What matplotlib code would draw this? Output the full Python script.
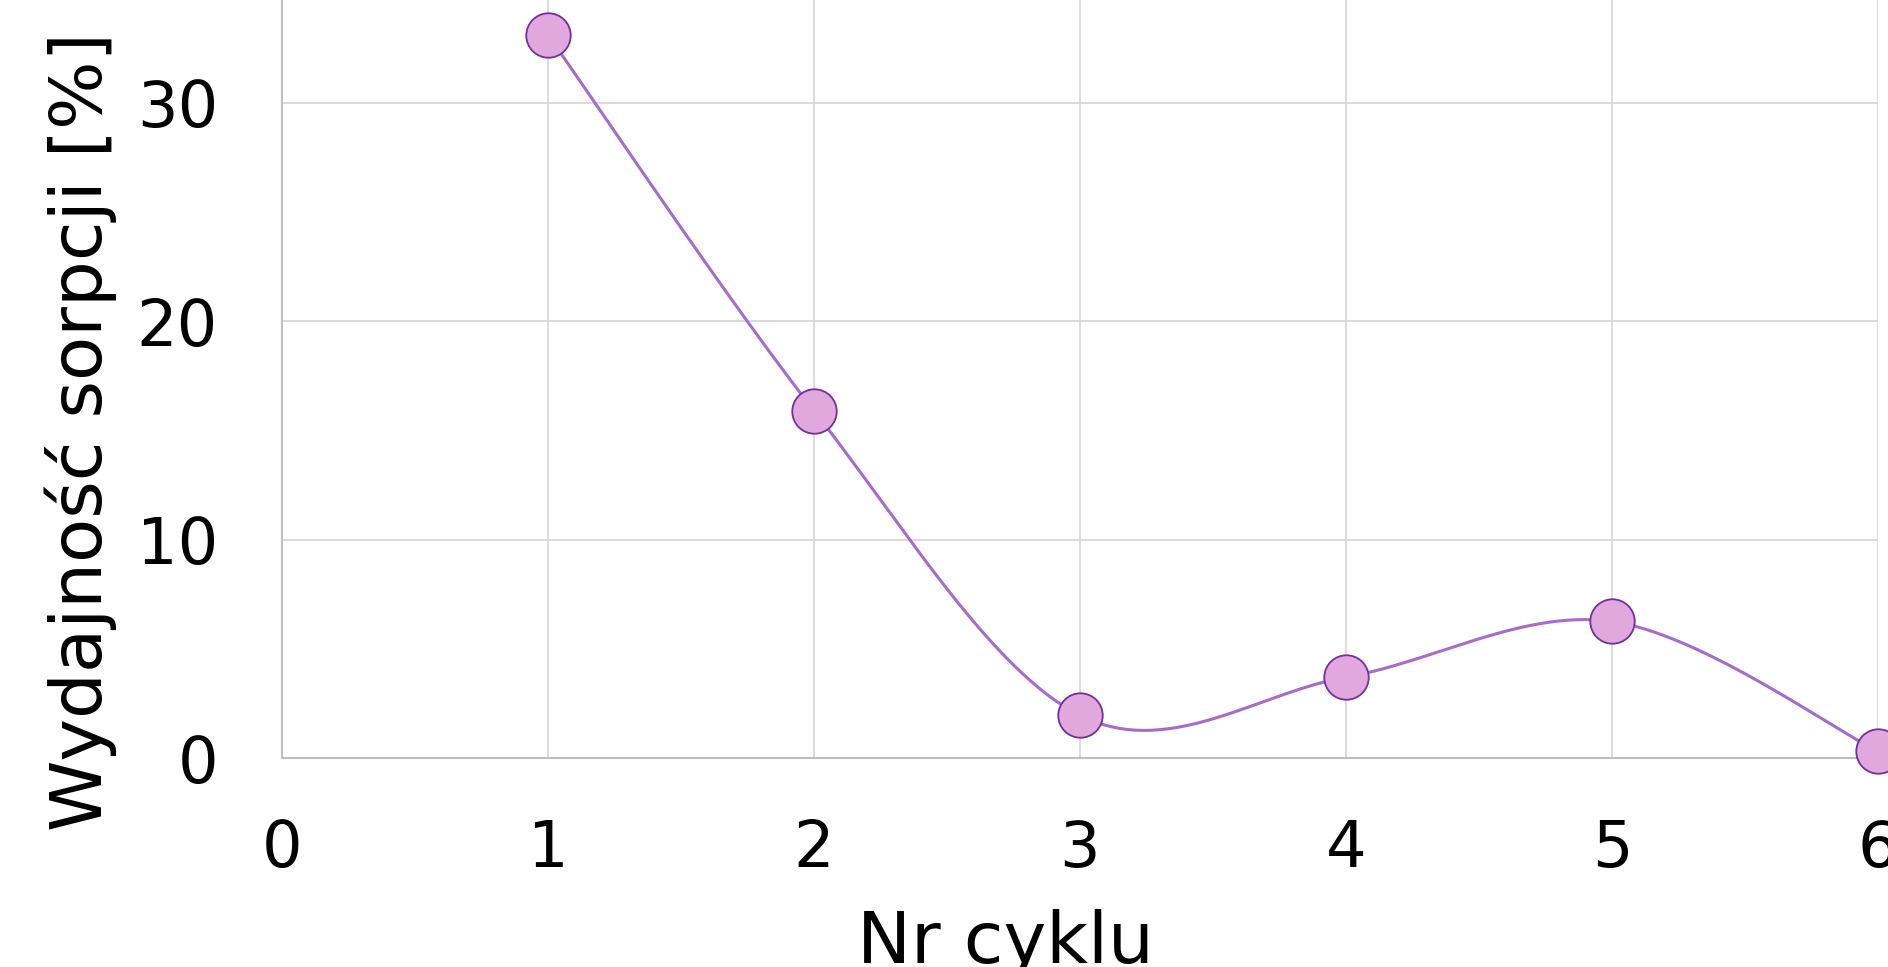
import matplotlib
matplotlib.use("Agg")
import matplotlib.pyplot as plt
import numpy as np

# dane: wydajność sorpcji w kolejnych cyklach
cykle = [1, 2, 3, 4, 5, 6]
wydajnosc = [33.1, 15.9, 1.95, 3.7, 6.25, 0.3]
x_ticks = [0, 1, 2, 3, 4, 5, 6]
y_ticks = [0, 10, 20, 30]


def excel_smooth(xs, ys, n=60):
    # wygladzanie jak w Excelu: krzywe Beziera z punktami kontrolnymi (Catmull-Rom / 6)
    p = np.column_stack([xs, ys]).astype(float)
    ext = np.vstack([p[0], p, p[-1]])
    out = []
    t = np.linspace(0, 1, n)[:, None]
    for i in range(len(p) - 1):
        p0 = ext[i + 1]
        p3 = ext[i + 2]
        c1 = p0 + (ext[i + 2] - ext[i]) / 6.0
        c2 = p3 - (ext[i + 3] - ext[i + 1]) / 6.0
        seg = ((1 - t) ** 3) * p0 + 3 * ((1 - t) ** 2) * t * c1 \
            + 3 * (1 - t) * t ** 2 * c2 + t ** 3 * p3
        out.append(seg)
    c = np.vstack(out)
    return c[:, 0], c[:, 1]


plt.rcParams['font.family'] = ['DejaVu Sans']

fig = plt.figure(figsize=(18.88, 9.67), dpi=100)
ax = fig.add_axes([282 / 1888, 209 / 967, 1596 / 1888, 758 / 967])

sx, sy = excel_smooth(cykle, wydajnosc)
ax.plot(sx, sy, color='#A66BCB', linewidth=2.2, zorder=3, clip_on=False)
ax.plot(cykle, wydajnosc, linestyle='none', marker='o', markersize=32,
        markerfacecolor='#E0A8DC', markeredgecolor='#7030A0',
        markeredgewidth=1.3, zorder=4, clip_on=False)

ax.set_xlim(0, 6)
ax.set_ylim(0, 34.7)
ax.set_xticks(x_ticks)
ax.set_yticks(y_ticks)
ax.tick_params(axis='x', length=0, pad=43, labelsize=46)
ax.tick_params(axis='y', length=0, pad=46, labelsize=46)

ax.grid(True, color='#D9D9D9', linewidth=1.3, zorder=0)
ax.set_axisbelow(True)
for s in ['top', 'right']:
    ax.spines[s].set_visible(False)
for s in ['left', 'bottom']:
    ax.spines[s].set_color('#BFBFBF')
    ax.spines[s].set_linewidth(1.5)

fig.text(1005 / 1888, 4 / 967, 'Nr cyklu', fontsize=52, ha='center', va='baseline')
fig.text(102 / 1888, (967 - 432) / 967, 'Wydajność sorpcji [%]', fontsize=52,
         rotation=90, rotation_mode='anchor', ha='center', va='baseline')

fig.savefig('out.png', dpi=100)
